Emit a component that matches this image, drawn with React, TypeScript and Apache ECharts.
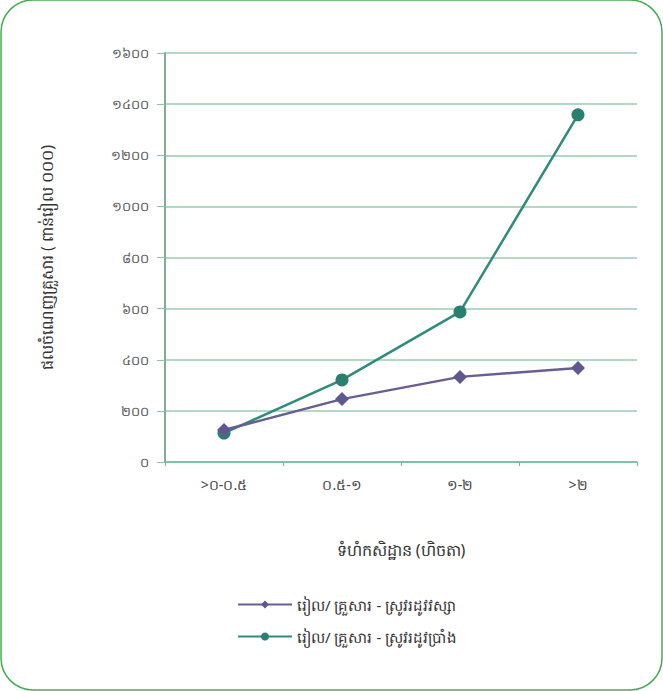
import React, { useEffect, useRef } from "react";
import * as echarts from "echarts";

const categories = [">០-០.៥", "០.៥-១", "១-២", ">២"];
const rainySeason = [125, 246, 333, 368];
const drySeason = [113, 321, 587, 1358];
const seriesNames = [
  "រៀល/ គ្រួសារ - ស្រូវរដូវវស្សា",
  "រៀល/ គ្រួសារ - ស្រូវរដូវប្រាំង",
];
const xTitle = "ទំហំកសិដ្ឋាន (ហិចតា)";
const yTitle = "ផលចំណេញគ្រួសារ ( ពាន់រៀល ០០០)";

const khmerDigits = ["០", "១", "២", "៣", "៤", "៥", "៦", "៧", "៨", "៩"];
const toKhmer = (v: number) =>
  String(v).replace(/[0-9]/g, (d) => khmerDigits[Number(d)]);

const FONT = "'Noto Sans', 'DejaVu Sans', sans-serif";

export default function App() {
  const ref = useRef<HTMLDivElement>(null);
  useEffect(() => {
    const chart = echarts.init(ref.current!, undefined, { renderer: "svg" });
    chart.setOption({
      animation: false,
      backgroundColor: "#ffffff",
      textStyle: { fontFamily: FONT },
      graphic: [
        {
          type: "rect",
          shape: { x: 1, y: 0, width: 661, height: 690, r: 32 },
          style: { fill: "none", stroke: "#45ad52", lineWidth: 1.5 },
          z: -1,
        },
      ],
      grid: { left: 165, right: 26, top: 53, bottom: 229 },
      legend: {
        orient: "vertical",
        left: 232,
        top: 592,
        itemWidth: 54,
        itemHeight: 10,
        itemGap: 17,
        textStyle: { fontSize: 15, color: "#333", fontFamily: FONT },
        data: seriesNames,
      },
      xAxis: {
        type: "category",
        data: categories,
        boundaryGap: true,
        name: xTitle,
        nameLocation: "middle",
        nameGap: 80,
        nameTextStyle: { fontSize: 16, color: "#333", fontFamily: FONT },
        axisLine: { lineStyle: { color: "#6fb9a6", width: 1.5 } },
        axisTick: { show: true, length: 4, lineStyle: { color: "#6fb9a6" } },
        axisLabel: { fontSize: 14, color: "#444", margin: 15, fontFamily: FONT },
      },
      yAxis: {
        type: "value",
        min: 0,
        max: 1600,
        interval: 200,
        name: yTitle,
        nameLocation: "middle",
        nameGap: 110,
        nameTextStyle: { fontSize: 16, color: "#333", fontFamily: FONT },
        axisLine: { show: true, lineStyle: { color: "#7fae93", width: 2 } },
        axisTick: { show: true, length: 8, lineStyle: { color: "#8fc5a5" } },
        axisLabel: {
          fontSize: 13,
          color: "#555",
          margin: 16,
          fontFamily: FONT,
          formatter: (v: number) => toKhmer(v),
        },
        splitLine: { lineStyle: { color: "#98cdb0", width: 1.5 } },
      },
      series: [
        {
          name: seriesNames[0],
          type: "line",
          data: rainySeason,
          symbol: "diamond",
          symbolSize: 14,
          lineStyle: { color: "#675f93", width: 2.5 },
          itemStyle: { color: "#5f5890" },
          z: 3,
        },
        {
          name: seriesNames[1],
          type: "line",
          data: drySeason,
          symbol: "circle",
          symbolSize: 13,
          lineStyle: { color: "#2f8c7b", width: 2.5 },
          itemStyle: { color: "#2a7f6e" },
          z: 2,
        },
      ],
    });
    return () => chart.dispose();
  }, []);
  return (
    <div
      ref={ref}
      style={{ position: "fixed", left: 0, top: 0, width: 663, height: 691 }}
    />
  );
}
